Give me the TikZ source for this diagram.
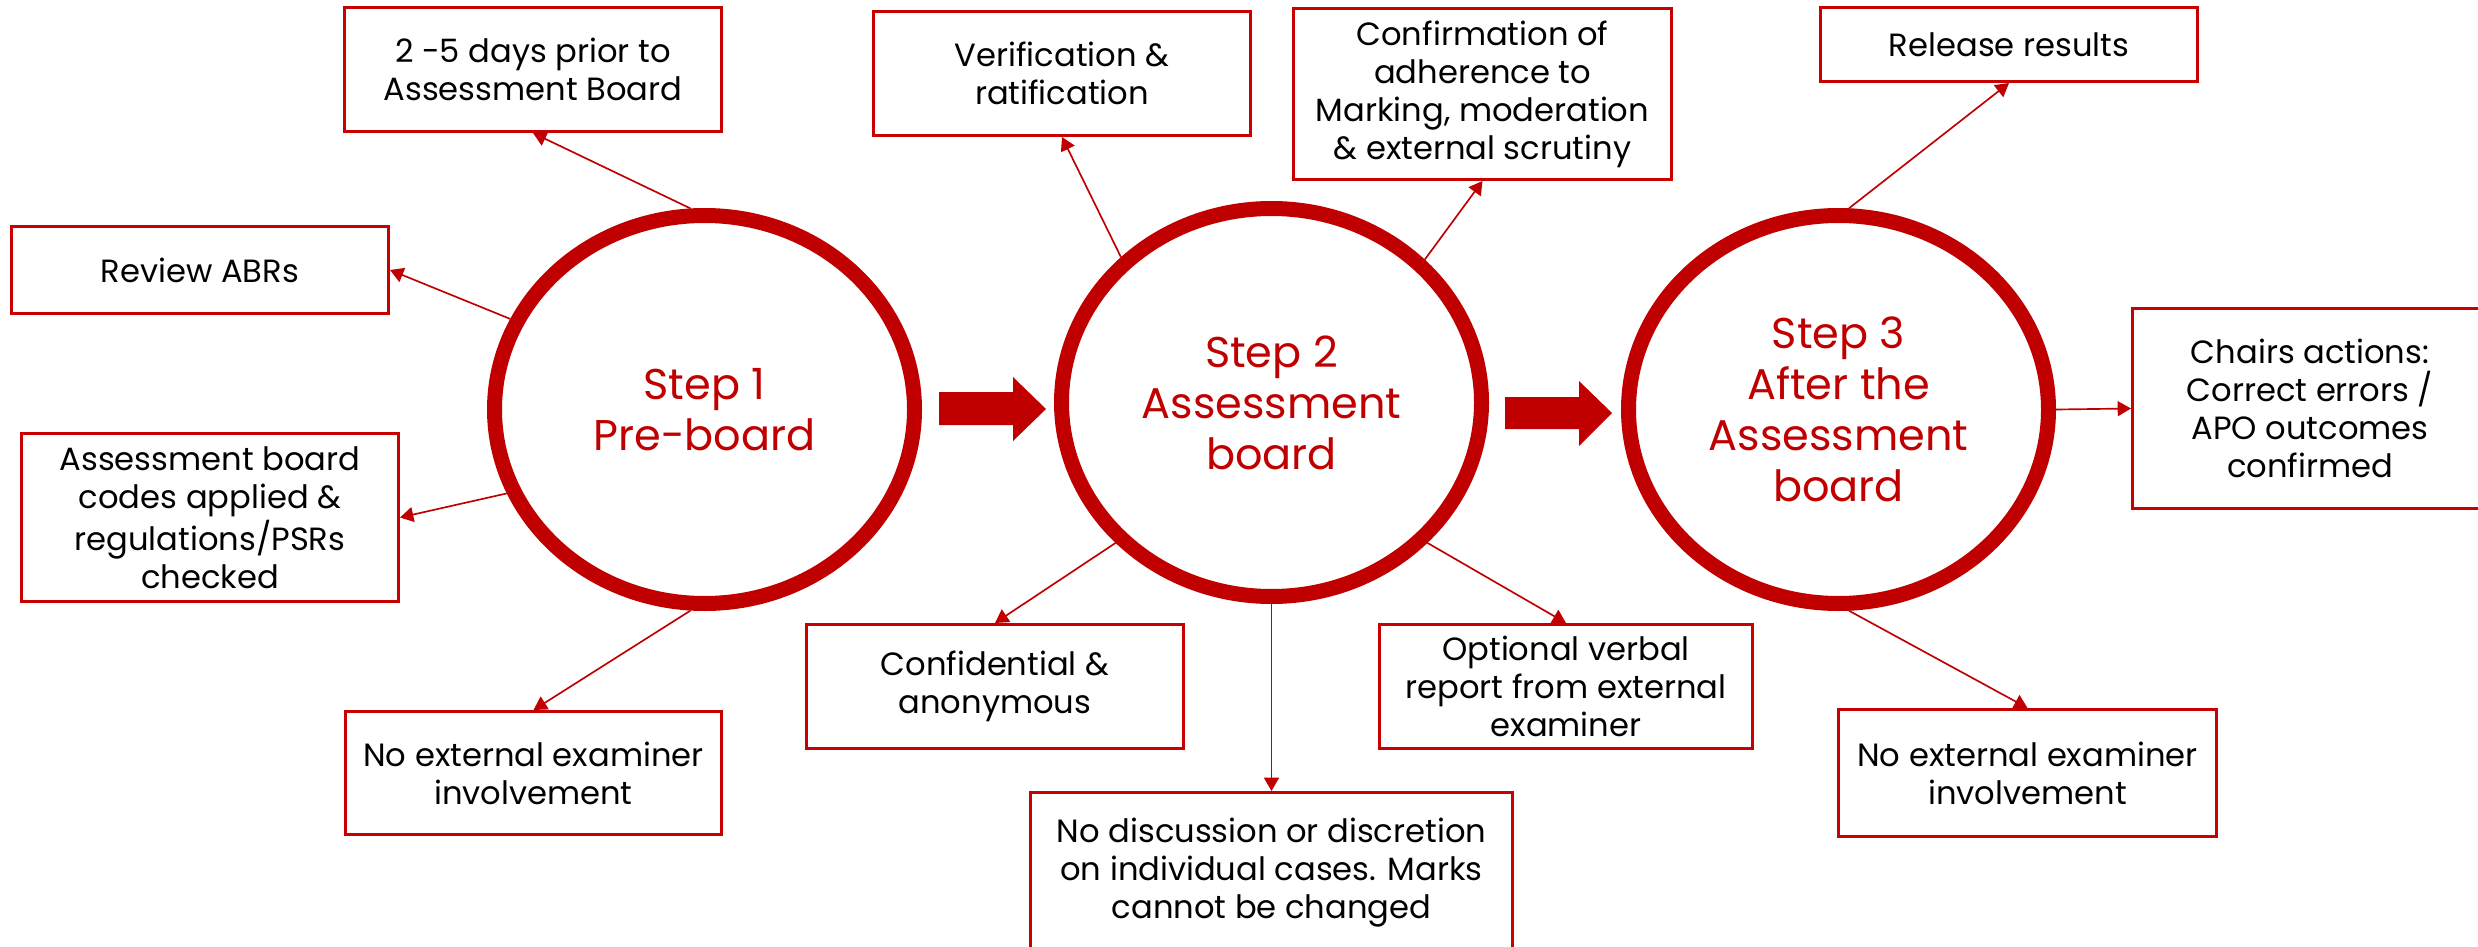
\documentclass[tikz,border=0pt]{standalone}
\usepackage{fontspec}
\setmainfont{Poppins}
\usetikzlibrary{shapes.geometric,arrows.meta,calc}
\definecolor{dred}{HTML}{C00000}
\definecolor{bred}{HTML}{C80000}
\begin{document}
\begin{tikzpicture}[x=0.3pt,y=-0.3pt,
  bx/.style n args={2}{draw=bred, line width=0.9pt, rectangle, inner sep=0pt,
    minimum width=#1*0.3pt-0.9pt, minimum height=#2*0.3pt-0.9pt, align=center,
    font=\fontsize{9.65pt}{11.4pt}\selectfont, text=black},
  stepel/.style={draw=dred, line width=4.5pt, ellipse, inner sep=0pt,
    minimum width=420*0.3pt, minimum height=388*0.3pt, align=center, text=dred,
    font=\fontsize{12.9pt}{15.3pt}\selectfont},
  conn/.style={draw=dred, line width=0.5pt, -{Triangle[length=4pt,width=4.5pt]}},
  blk/.style={fill=dred}
]
\useasboundingbox (0,0) rectangle (2478,947);
\clip (0,0) rectangle (2478,947);

% step ellipses
\node[stepel] (e1) at (704.5,409.5) {Step 1\\Pre-board};
\node[stepel] (e2) at (1271.5,402.5) {Step 2\\Assessment\\board};
\node[stepel] (e3) at (1838.5,409.5) {Step 3\\After the\\Assessment\\board};

% boxes
\node[bx={380}{127}] (A) at (533,69.5) {2 -5 days prior to\\Assessment Board};
\node[bx={380}{90}] (B) at (200,270) {Review ABRs};
\node[bx={380}{171}] (C) at (210,517.5) {Assessment board\\codes applied \&\\regulations/PSRs\\checked};
\node[bx={379}{126}] (D) at (533.5,773) {No external examiner\\involvement};
\node[bx={380}{127}] (V) at (1062,73.5) {Verification \&\\ratification};
\node[bx={381}{174}] (Cf) at (1482.5,94) {Confirmation of\\adherence to\\Marking, moderation\\\& external scrutiny};
\node[bx={380}{127}] (Cn) at (995,686.5) {Confidential \&\\anonymous};
\node[bx={376}{127}] (Op) at (1566,686.5) {Optional verbal\\report from external\\examiner};
\node[bx={485}{164}] (Nd) at (1271.5,873) {No discussion or discretion\\on individual cases. Marks\\cannot be changed};
\node[bx={380}{77}] (R) at (2009,44.5) {Release results};
\node[bx={358}{203}] (Ch) at (2310,408.5) {Chairs actions:\\Correct errors /\\APO outcomes\\confirmed};
\node[bx={381}{130}] (N2) at (2027.5,773) {No external examiner\\involvement};

% block arrows
\fill[blk] (939,392) -- (1013,392) -- (1013,377) -- (1046,409) -- (1013,441) -- (1013,425) -- (939,425) -- cycle;
\fill[blk] (1505,397) -- (1579,397) -- (1579,381) -- (1612,413) -- (1579,446) -- (1579,429) -- (1505,429) -- cycle;

% connectors
\draw[conn] (e1.94) -- (A.south);
\draw[conn] (e1.155.5) -- (B.east);
\draw[conn] (e1.203.8) -- (C.east);
\draw[conn] (e1.266.7) -- (D.north);
\draw[conn] (e2.136.3) -- (V.south);
\draw[conn] (e2.43.1) -- (Cf.south);
\draw[conn] (e2.222.1) -- (Cn.north);
\draw[conn] (e2.south) -- (Nd.north);
\draw[conn] (e2.318.3) -- (Op.north);
\draw[conn] (e3.87.3) -- (R.south);
\draw[conn] (e3.east) -- (Ch.west);
\draw[conn] (e3.273.8) -- (N2.north);
\end{tikzpicture}
\end{document}
